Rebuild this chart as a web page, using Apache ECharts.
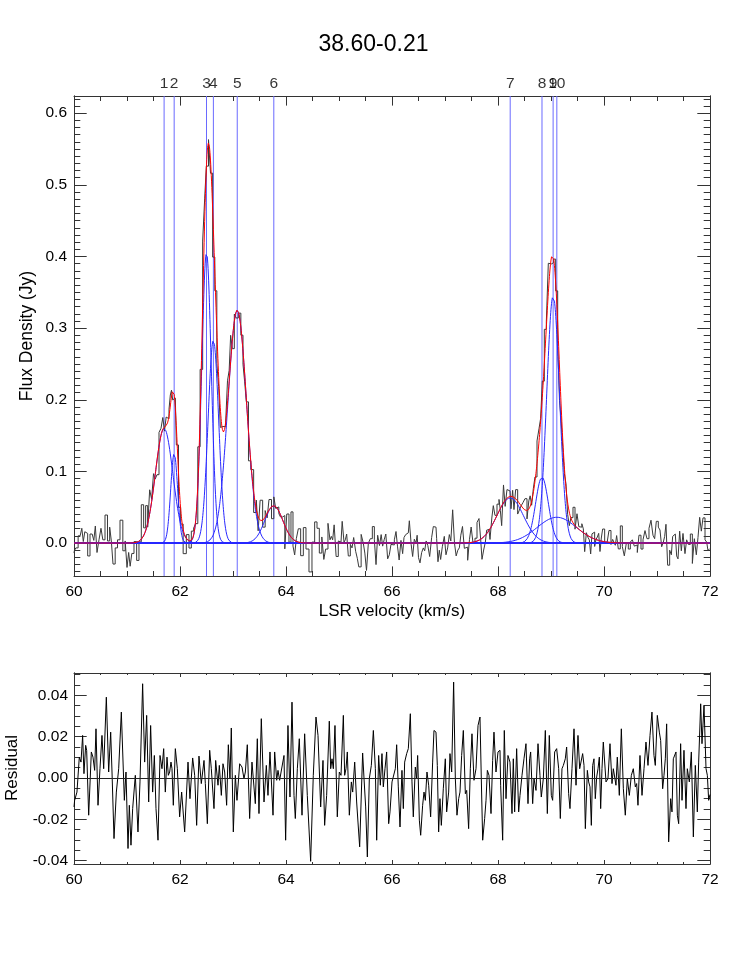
<!DOCTYPE html>
<html><head><meta charset="utf-8">
<script src="https://cdn.jsdelivr.net/npm/echarts@6/dist/echarts.min.js"></script>
<style>html,body{margin:0;padding:0;background:#fff}#c{width:747px;height:961px}</style>
</head><body><div id="c"></div>
<script>
const chartTitle = '38.60-0.21';
const xTicks = [60, 62, 64, 66, 68, 70, 72];
const fluxTicks = [0.0, 0.1, 0.2, 0.3, 0.4, 0.5, 0.6];
const residTicks = [-0.04, -0.02, 0.00, 0.02, 0.04];
const compLabels = ['1','2','3','4','5','6','7','8','9','10'];
const compCenter = [61.70, 61.89, 62.50, 62.63, 63.08, 63.77, 68.23, 68.83, 69.04, 69.11];
const compAmp    = [0.160, 0.125, 0.405, 0.283, 0.325, 0.052, 0.063, 0.092, 0.345, 0.036];
const compSigma  = [0.165, 0.065, 0.090, 0.100, 0.175, 0.170, 0.250, 0.120, 0.120, 0.370];
// residual (data - fit)
const resVel = [
60.000,60.012,60.056,60.100,60.132,60.163,60.188,60.220,60.239,60.277,60.327,60.358,60.390,60.415,60.453,60.490,60.528,60.560,60.610,60.654,
60.692,60.717,60.755,60.799,60.843,60.893,60.950,60.981,61.019,61.044,61.075,61.107,61.157,61.207,61.245,61.295,61.333,61.371,61.409,61.446,
61.484,61.516,61.547,61.585,61.623,61.660,61.692,61.723,61.755,61.780,61.805,61.830,61.849,61.874,61.912,61.950,
61.993,62.031,62.088,62.151,62.188,62.239,62.277,62.314,62.358,62.402,62.453,62.478,62.516,62.560,62.591,62.641,62.673,62.717,62.742,62.780,
62.811,62.843,62.880,62.912,62.943,62.968,63.006,63.044,63.075,63.126,63.170,63.207,63.233,63.270,63.314,63.358,63.421,63.459,63.490,63.534,
63.585,63.629,63.660,63.698,63.755,63.786,63.824,63.849,63.880,63.912,63.962,
63.993,64.037,64.075,64.113,64.151,64.176,64.214,64.251,64.302,64.352,64.402,64.465,64.515,64.566,64.604,64.654,64.698,64.729,64.767,64.817,
64.843,64.868,64.893,64.924,64.968,65.006,65.038,65.082,65.107,65.132,65.157,65.195,65.233,65.258,65.296,65.333,65.358,65.390,65.446,65.472,
65.503,65.535,65.572,65.610,65.648,65.686,65.711,65.748,65.780,65.811,65.836,65.868,65.899,65.937,
65.962,66.000,66.025,66.063,66.088,66.119,66.151,66.188,66.214,66.239,66.277,66.308,66.346,66.377,66.402,66.440,66.465,66.484,66.516,66.541,
66.578,66.604,66.629,66.660,66.692,66.729,66.767,66.792,66.830,66.855,66.880,66.905,66.931,66.968,67.006,67.031,67.069,67.094,67.126,67.163,
67.195,67.226,67.258,67.283,67.314,67.346,67.384,67.409,67.446,67.478,67.509,67.547,67.585,67.623,67.660,67.685,67.711,67.748,67.774,67.799,
67.830,67.868,67.899,67.924,67.962,68.000,68.038,
68.050,68.088,68.119,68.151,68.188,68.226,68.264,68.289,68.314,68.352,68.390,68.415,68.453,68.490,68.528,68.566,68.597,68.616,68.654,68.679,
68.717,68.755,68.792,68.817,68.855,68.893,68.931,68.968,69.006,69.031,69.069,69.107,69.145,69.176,69.207,69.233,69.270,69.295,69.333,69.358,
69.396,69.434,69.472,69.509,69.541,69.566,69.597,69.623,69.648,69.686,69.711,69.736,69.761,69.786,69.811,69.836,69.862,69.887,69.912,69.937,
69.962,69.987,
70.038,70.075,70.113,70.151,70.176,70.201,70.226,70.251,70.289,70.327,70.365,70.402,70.440,70.478,70.516,70.553,70.591,70.616,70.641,70.679,
70.717,70.755,70.792,70.830,70.868,70.905,70.943,70.968,71.006,71.044,71.069,71.107,71.132,71.157,71.182,71.220,71.258,71.283,71.308,71.333,
71.358,71.384,71.409,71.446,71.472,71.509,71.547,71.572,71.610,71.648,71.686,71.723,71.761,71.786,71.824,71.849,71.887,71.925,71.950,71.975,
72.000];
const resVal = [
-0.0140,-0.0108,-0.0068,0.0101,0.0077,0.0206,0.0021,0.0158,0.0134,-0.0180,0.0126,0.0101,0.0037,0.0238,-0.0132,0.0045,0.0206,0.0045,0.0391,0.0029,
0.0222,0.0029,-0.0293,-0.0068,0.0045,0.0319,-0.0108,0.0029,-0.0341,-0.0132,-0.0325,-0.0148,0.0013,-0.0261,-0.0019,0.0456,0.0077,0.0303,-0.0116,0.0254,
-0.0068,0.0109,-0.0148,-0.0301,0.0109,0.0045,0.0142,-0.0068,0.0101,0.0013,0.0029,0.0077,0.0045,-0.0132,0.0142,0.0045,
-0.0188,-0.0068,-0.0261,0.0077,-0.0100,0.0097,0.0013,-0.0229,0.0106,-0.0027,0.0085,-0.0027,-0.0221,0.0134,0.0045,-0.0148,0.0085,-0.0035,0.0061,-0.0084,
0.0069,0.0029,-0.0132,0.0161,-0.0003,0.0242,-0.0261,0.0013,-0.0108,0.0069,0.0053,-0.0003,0.0029,0.0161,-0.0196,0.0077,-0.0124,0.0190,-0.0172,0.0287,
-0.0116,0.0061,-0.0084,0.0126,-0.0180,0.0126,-0.0011,0.0037,-0.0011,-0.0003,0.0109,
-0.0301,0.0254,-0.0092,0.0367,-0.0084,-0.0196,0.0045,0.0190,-0.0180,0.0214,-0.0084,-0.0403,0.0013,0.0295,0.0206,-0.0140,0.0085,-0.0229,-0.0084,0.0275,
0.0045,0.0093,0.0045,0.0254,-0.0188,0.0029,0.0013,0.0303,0.0013,0.0045,0.0126,-0.0180,-0.0019,-0.0068,0.0077,-0.0116,-0.0213,-0.0333,0.0121,-0.0003,
-0.0140,-0.0382,-0.0003,0.0061,0.0230,0.0045,-0.0301,0.0109,-0.0035,0.0118,-0.0043,0.0045,0.0126,-0.0221,
-0.0164,-0.0019,-0.0027,0.0045,0.0161,-0.0043,-0.0237,0.0037,-0.0148,0.0077,0.0118,0.0142,0.0311,-0.0019,-0.0188,0.0053,-0.0003,0.0109,-0.0204,-0.0277,
-0.0132,-0.0068,-0.0108,0.0029,-0.0035,-0.0188,0.0077,0.0230,0.0222,0.0061,-0.0261,-0.0100,-0.0229,-0.0052,0.0093,-0.0164,-0.0068,0.0118,0.0029,0.0464,
-0.0003,-0.0180,-0.0100,-0.0068,0.0109,0.0230,-0.0076,-0.0060,-0.0245,0.0045,0.0214,-0.0011,0.0045,0.0254,0.0295,-0.0003,-0.0301,-0.0196,-0.0108,0.0037,
0.0013,-0.0172,0.0085,0.0222,0.0029,0.0126,0.0134,
-0.0035,-0.0301,0.0230,-0.0100,0.0109,0.0077,-0.0172,0.0093,-0.0164,0.0142,-0.0164,-0.0084,0.0013,0.0093,0.0166,-0.0124,0.0093,0.0126,-0.0124,-0.0003,
-0.0060,0.0166,0.0013,-0.0092,-0.0003,0.0230,-0.0172,0.0206,-0.0084,-0.0108,0.0126,0.0142,0.0045,-0.0196,0.0045,0.0061,0.0093,0.0150,-0.0076,-0.0148,
0.0045,0.0238,-0.0035,0.0206,0.0045,0.0053,0.0118,0.0061,-0.0245,0.0037,-0.0019,-0.0043,-0.0229,0.0061,0.0093,-0.0100,0.0005,0.0045,0.0101,-0.0148,
0.0045,0.0174,
-0.0019,-0.0003,0.0166,-0.0027,0.0045,0.0037,-0.0035,0.0101,-0.0084,0.0238,-0.0052,-0.0180,-0.0003,-0.0084,0.0013,0.0045,-0.0043,-0.0027,-0.0132,0.0109,
-0.0084,0.0045,0.0174,0.0061,0.0206,0.0319,0.0109,0.0061,0.0303,0.0222,0.0182,-0.0052,0.0013,0.0093,0.0262,-0.0309,-0.0100,-0.0164,0.0093,0.0101,
0.0126,-0.0180,-0.0221,0.0166,-0.0108,0.0134,-0.0148,0.0045,-0.0019,0.0126,-0.0285,0.0061,-0.0164,0.0077,0.0359,0.0166,0.0351,0.0045,0.0013,-0.0108,
-0.0080];

const FONT = 'Liberation Sans, Arial, Helvetica, sans-serif';
const X_MIN = 60, X_MAX = 72;
const F_MIN = -0.046, F_MAX = 0.624;
const R_MIN = -0.0416, R_MAX = 0.0508;
const MARK_COLOR = '#6a6aff';

function gauss(v, i) {
  const d = v - compCenter[i];
  return compAmp[i] * Math.exp(-d * d / (2 * compSigma[i] * compSigma[i]));
}
function fit(v) { let s = 0; for (let i = 0; i < compCenter.length; i++) s += gauss(v, i); return s; }

// model evaluation grid
const grid = [];
for (let k = 0; k <= 2400; k++) grid.push(+(X_MIN + k * 0.005).toFixed(3));

function range(a, b, step) { const out = []; const n = Math.round((b - a) / step); for (let k = 0; k <= n; k++) out.push(+(a + k * step).toFixed(4)); return out; }
const fluxMinor = range(-0.04, 0.62, 0.01);
const residMinor = range(-0.04, 0.05, 0.005);

const AX = '#333';
function xAx(gi, pos, labels, tickLen, minorLen) {
  return {
    type: 'value', gridIndex: gi, position: pos, min: X_MIN, max: X_MAX, interval: 2,
    axisLine: { show: true, onZero: false, lineStyle: { color: AX, width: 1 } },
    axisTick: { show: true, inside: true, length: tickLen, lineStyle: { color: AX } },
    minorTick: { show: true, splitNumber: 4, length: minorLen, lineStyle: { color: AX } },
    axisLabel: { show: labels, margin: 8, color: '#000', fontSize: 15.5, fontFamily: FONT },
    splitLine: { show: false }, minorSplitLine: { show: false }
  };
}
function yAx(gi, pos, mn, mx, ticks, labels, len, fmt, margin) {
  return {
    type: 'value', gridIndex: gi, position: pos, min: mn, max: mx,
    axisLine: { show: true, onZero: false, lineStyle: { color: AX, width: 1 } },
    axisTick: { show: true, inside: true, length: len, customValues: ticks, lineStyle: { color: AX } },
    axisLabel: { show: labels, customValues: ticks, margin: margin, color: '#000', fontSize: 15.5, fontFamily: FONT,
                 formatter: v => (Math.abs(v) < 1e-9 ? 0 : v).toFixed(fmt) },
    splitLine: { show: false }
  };
}

const series = [];
// component centre markers (vertical lines)
compCenter.forEach(c => {
  series.push({ type: 'line', xAxisIndex: 0, yAxisIndex: 0, symbol: 'none', silent: true, z: 1,
    lineStyle: { color: MARK_COLOR, width: 1 }, data: [[c, F_MIN], [c, F_MAX]] });
});
// labels above the markers
series.push({ type: 'scatter', xAxisIndex: 0, yAxisIndex: 0, symbolSize: 0, silent: true, clip: false, z: 6,
  data: compCenter.map((c, i) => ({ value: [c, F_MAX], name: compLabels[i] })),
  label: { show: true, position: 'top', distance: 4, formatter: p => p.name, color: '#000', fontSize: 15.5, fontFamily: FONT } });
// components
for (let i = 0; i < compCenter.length; i++) {
  series.push({ type: 'line', xAxisIndex: 0, yAxisIndex: 0, symbol: 'none', silent: true,
    lineStyle: { color: '#2828ff', width: 1 }, z: 3,
    data: grid.map(v => [v, gauss(v, i)]) });
}
// data (histogram style)
series.push({ type: 'line', xAxisIndex: 0, yAxisIndex: 0, symbol: 'none', silent: true, step: 'middle',
  lineStyle: { color: '#3a3a3a', width: 1 }, z: 2,
  data: resVel.map((v, k) => [v, fit(v) + resVal[k]]) });
// fit
series.push({ type: 'line', xAxisIndex: 0, yAxisIndex: 0, symbol: 'none', silent: true,
  lineStyle: { color: '#ff0000', width: 1 }, z: 4,
  data: grid.map(v => [v, fit(v)]) });
// residual
series.push({ type: 'line', xAxisIndex: 4, yAxisIndex: 8, symbol: 'none', silent: true,
  lineStyle: { color: '#000', width: 1 }, z: 3,
  data: resVel.map((v, k) => [v, resVal[k]]),
  markLine: { silent: true, symbol: ['none', 'none'], animation: false, label: { show: false },
    lineStyle: { color: '#222', width: 1, type: 'solid' }, data: [{ yAxis: 0 }] } });

const chart = echarts.init(document.getElementById('c'), null, { renderer: 'canvas' });
chart.setOption({
  animation: false,
  backgroundColor: '#fff',
  title: { text: chartTitle, left: 'center', top: 28, textStyle: { fontSize: 23, fontWeight: 'normal', color: '#000', fontFamily: FONT } },
  grid: [
    { left: 74, right: 37, top: 96, height: 480 },
    { left: 74, right: 37, top: 673, height: 191 }
  ],
  xAxis: [
    xAx(0, 'bottom', true, 9.6, 5), xAx(0, 'top', false, 9.6, 5),
    { type: 'value', gridIndex: 0, show: false, min: X_MIN, max: X_MAX },
    { type: 'value', gridIndex: 0, show: false, min: X_MIN, max: X_MAX },
    xAx(1, 'bottom', true, 4, 2), xAx(1, 'top', false, 4, 2)
  ],
  yAxis: [
    yAx(0, 'left', F_MIN, F_MAX, fluxTicks, true, 12.7, 1, 7),
    yAx(0, 'right', F_MIN, F_MAX, fluxTicks, false, 12.7, 1, 7),
    yAx(0, 'left', F_MIN, F_MAX, fluxMinor, false, 6.3, 1, 7),
    yAx(0, 'right', F_MIN, F_MAX, fluxMinor, false, 6.3, 1, 7),
    { type: 'value', gridIndex: 0, show: false, min: F_MIN, max: F_MAX },
    { type: 'value', gridIndex: 0, show: false, min: F_MIN, max: F_MAX },
    { type: 'value', gridIndex: 0, show: false, min: F_MIN, max: F_MAX },
    { type: 'value', gridIndex: 0, show: false, min: F_MIN, max: F_MAX },
    yAx(1, 'left', R_MIN, R_MAX, residTicks, true, 12.7, 2, 6),
    yAx(1, 'right', R_MIN, R_MAX, residTicks, false, 12.7, 2, 6),
    yAx(1, 'left', R_MIN, R_MAX, residMinor, false, 6.3, 2, 6),
    yAx(1, 'right', R_MIN, R_MAX, residMinor, false, 6.3, 2, 6)
  ],
  graphic: [
    { type: 'text', x: 392, y: 611, style: { text: 'LSR velocity (km/s)', align: 'center', verticalAlign: 'middle', fontSize: 17, fontFamily: FONT, fill: '#000' } },
    { type: 'text', x: 27, y: 336, rotation: Math.PI / 2, style: { text: 'Flux Density (Jy)', align: 'center', verticalAlign: 'middle', fontSize: 17.5, fontFamily: FONT, fill: '#000' } },
    { type: 'text', x: 12, y: 768, rotation: Math.PI / 2, style: { text: 'Residual', align: 'center', verticalAlign: 'middle', fontSize: 17, fontFamily: FONT, fill: '#000' } }
  ],
  series: series
});
</script></body></html>
